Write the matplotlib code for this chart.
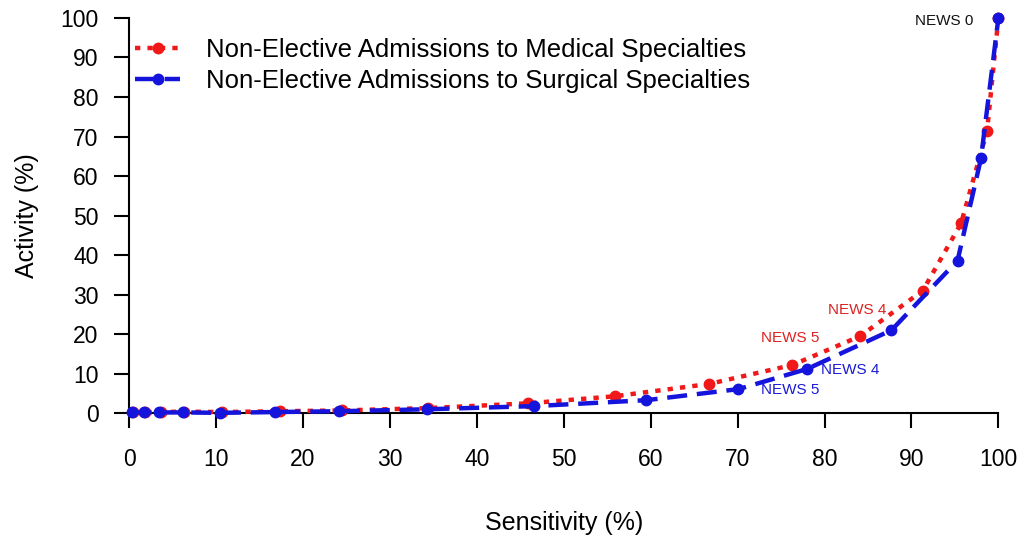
import matplotlib.pyplot as plt

plt.rcParams['font.family'] = ['Liberation Sans', 'DejaVu Sans']

# sensitivity (%) and activity (%) for each NEWS threshold
med_x = [0.5, 1.8, 3.7, 6.3, 10.7, 17.4, 24.5, 34.4, 45.9, 55.9, 66.7, 76.3, 84.1, 91.3, 95.7, 98.7, 100]
med_y = [0.3, 0.3, 0.3, 0.4, 0.3, 0.5, 0.7, 1.3, 2.5, 4.3, 7.4, 12.2, 19.5, 31.0, 48.0, 71.5, 100]
surg_x = [0.3, 1.7, 3.4, 6.2, 10.5, 16.8, 24.1, 34.3, 46.6, 59.5, 70.1, 78.0, 87.7, 95.3, 98.0, 100]
surg_y = [0.2, 0.2, 0.2, 0.2, 0.1, 0.3, 0.5, 1.0, 1.8, 3.3, 6.1, 11.2, 21.0, 38.6, 64.5, 100]

fig = plt.figure(figsize=(10.24, 5.43), dpi=100)
ax = fig.add_axes([0.126, 0.239, 0.849, 0.728])

ax.plot(med_x, med_y, color='#f01818', linestyle=(0, (1.2, 1.6)), linewidth=3.2,
        marker='o', markersize=7.5, clip_on=False, zorder=3,
        label='Non-Elective Admissions to Medical Specialties')
ax.plot(surg_x, surg_y, color='#1414dc', linestyle=(0, (4.5, 2.2)), linewidth=3.2,
        marker='o', markersize=7.5, clip_on=False, zorder=4,
        label='Non-Elective Admissions to Surgical Specialties')

ax.text(93.8, 99.2, 'NEWS 0', color='#111111', fontsize=11, ha='center', va='center')
ax.text(83.8, 26.0, 'NEWS 4', color='#dd2222', fontsize=11, ha='center', va='center')
ax.text(76.1, 19.0, 'NEWS 5', color='#dd2222', fontsize=11, ha='center', va='center')
ax.text(79.6, 11.0, 'NEWS 4', color='#1a1ad6', fontsize=11, ha='left', va='center')
ax.text(72.7, 5.8, 'NEWS 5', color='#1a1ad6', fontsize=11, ha='left', va='center')

ax.set_xlim(0, 100)
ax.set_ylim(0, 100)
ax.set_xticks(range(0, 101, 10))
ax.set_yticks(range(0, 101, 10))
for s in ['top', 'right']:
    ax.spines[s].set_visible(False)
for s in ['left', 'bottom']:
    ax.spines[s].set_linewidth(1.5)
ax.tick_params(axis='both', direction='out', length=11, width=1.5, labelsize=16.5)
ax.tick_params(axis='x', pad=14)
ax.tick_params(axis='y', pad=11)
ax.set_xlabel('Sensitivity (%)', fontsize=18, labelpad=29)
ax.set_ylabel('Activity (%)', fontsize=18, labelpad=15)

ax.legend(loc='upper left', bbox_to_anchor=(0.0, 0.965), frameon=False, fontsize=18.5,
          handlelength=1.75, handletextpad=1.0, labelspacing=0.25, borderaxespad=0.0,
          borderpad=0.25)

fig.savefig('out.png', dpi=100)
